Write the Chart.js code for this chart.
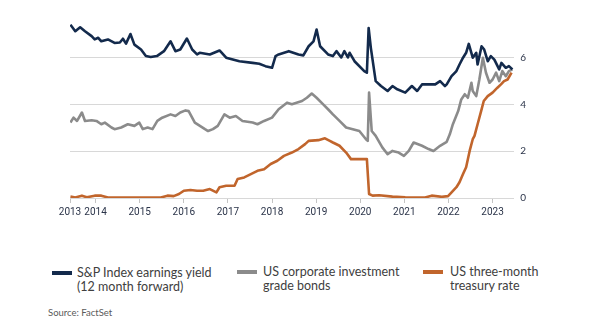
<!DOCTYPE html>
<html>
<head>
<meta charset="utf-8">
<script src="https://cdn.jsdelivr.net/npm/chart.js@4"></script>
<style>
  html, body { margin: 0; padding: 0; background: #fff; }
  body { width: 603px; height: 331px; position: relative; overflow: hidden; font-family: Lato, "Open Sans", sans-serif; }
  #chart-wrap { position: absolute; left: 0; top: 0; width: 603px; height: 225px; }
  .swatch { position: absolute; height: 4px; width: 20px; }
  .legend-text { position: absolute; font-size: 12.5px; line-height: 14px; color: #404040; white-space: nowrap; }
  #source { position: absolute; left: 48px; top: 307px; font-size: 9.5px; color: #5a5a5a; }
</style>
</head>
<body>
<div id="chart-wrap"><canvas id="yieldChart"></canvas></div>
<div id="legend"></div>
<div id="source">Source: FactSet</div>

<script>
// Series values, [decimal year, percent]
const spYield = [
  [2013.43, 7.40], [2013.54, 7.12], [2013.65, 7.29], [2013.76, 7.12], [2013.91, 6.91],
  [2013.98, 6.77], [2014.06, 6.84], [2014.13, 6.69], [2014.28, 6.77], [2014.43, 6.62],
  [2014.55, 6.64], [2014.62, 6.80], [2014.69, 6.59], [2014.79, 7.00], [2014.88, 6.55],
  [2015.03, 6.34], [2015.14, 6.06], [2015.25, 6.02], [2015.39, 6.06], [2015.55, 6.27],
  [2015.70, 6.69], [2015.81, 6.27], [2015.92, 6.34], [2016.07, 6.81], [2016.19, 6.34],
  [2016.30, 6.13], [2016.36, 6.20], [2016.59, 6.13], [2016.81, 6.30], [2016.96, 5.99],
  [2017.26, 5.84], [2017.56, 5.77], [2017.71, 5.73], [2017.85, 5.63], [2018.00, 5.56],
  [2018.08, 6.06], [2018.15, 6.13], [2018.38, 6.27], [2018.60, 6.13], [2018.71, 6.09],
  [2018.83, 6.48], [2018.94, 6.69], [2019.01, 7.19], [2019.09, 6.48], [2019.27, 6.13],
  [2019.38, 6.06], [2019.46, 6.27], [2019.57, 6.00], [2019.64, 6.27], [2019.72, 6.00],
  [2019.76, 6.20], [2019.87, 5.84], [2020.09, 5.42], [2020.15, 5.35], [2020.19, 7.26],
  [2020.24, 6.41], [2020.35, 4.99], [2020.47, 4.78], [2020.62, 4.57], [2020.73, 4.78],
  [2020.84, 4.64], [2021.02, 4.50], [2021.17, 4.78], [2021.29, 4.57], [2021.40, 4.85],
  [2021.70, 4.85], [2021.81, 4.99], [2021.92, 4.78], [2021.96, 4.85], [2022.07, 5.20],
  [2022.18, 5.42], [2022.25, 5.70], [2022.33, 5.99], [2022.40, 6.20], [2022.46, 6.58],
  [2022.55, 5.99], [2022.63, 6.20], [2022.66, 5.70], [2022.75, 6.48], [2022.81, 6.34],
  [2022.89, 5.84], [2022.96, 6.06], [2023.04, 5.91], [2023.15, 5.49], [2023.20, 5.77],
  [2023.30, 5.56], [2023.37, 5.63], [2023.45, 5.49]
];

const corpBonds = [
  [2013.43, 3.22], [2013.50, 3.43], [2013.58, 3.29], [2013.69, 3.65], [2013.76, 3.29],
  [2013.91, 3.32], [2014.02, 3.29], [2014.13, 3.15], [2014.21, 3.22], [2014.36, 3.01],
  [2014.43, 2.94], [2014.58, 3.01], [2014.73, 3.15], [2014.88, 3.08], [2014.99, 3.22],
  [2015.07, 2.94], [2015.18, 3.01], [2015.29, 2.94], [2015.40, 3.29], [2015.51, 3.43],
  [2015.70, 3.57], [2015.81, 3.50], [2015.92, 3.65], [2016.04, 3.74], [2016.11, 3.71],
  [2016.25, 3.22], [2016.48, 2.94], [2016.55, 2.86], [2016.66, 2.94], [2016.77, 3.08],
  [2016.92, 3.57], [2017.04, 3.43], [2017.18, 3.50], [2017.33, 3.29], [2017.56, 3.22],
  [2017.67, 3.15], [2017.82, 3.29], [2018.00, 3.43], [2018.15, 3.79], [2018.34, 4.07],
  [2018.45, 4.00], [2018.68, 4.14], [2018.79, 4.28], [2018.90, 4.46], [2019.01, 4.28],
  [2019.16, 4.00], [2019.27, 3.79], [2019.38, 3.57], [2019.53, 3.29], [2019.68, 3.01],
  [2019.83, 2.94], [2019.98, 2.86], [2020.13, 2.51], [2020.17, 2.44], [2020.20, 4.50],
  [2020.26, 2.86], [2020.35, 2.65], [2020.50, 2.16], [2020.62, 1.87], [2020.73, 2.01],
  [2020.87, 1.94], [2020.99, 1.80], [2021.10, 2.01], [2021.21, 2.37], [2021.40, 2.23],
  [2021.55, 2.09], [2021.66, 2.01], [2021.81, 2.23], [2021.96, 2.40], [2022.03, 2.72],
  [2022.10, 3.15], [2022.22, 3.71], [2022.29, 4.21], [2022.37, 4.43], [2022.44, 4.28],
  [2022.52, 4.92], [2022.55, 4.57], [2022.63, 4.35], [2022.70, 5.06], [2022.78, 5.99],
  [2022.85, 5.35], [2022.93, 4.92], [2023.00, 5.06], [2023.08, 5.35], [2023.15, 4.99],
  [2023.22, 5.42], [2023.30, 5.20], [2023.37, 5.42], [2023.45, 5.49]
];

const tBill = [
  [2013.43, 0.06], [2013.54, 0.02], [2013.69, 0.10], [2013.80, 0.03], [2013.98, 0.10],
  [2014.13, 0.10], [2014.28, 0.02], [2015.48, 0.02], [2015.63, 0.10], [2015.77, 0.08],
  [2015.89, 0.17], [2016.00, 0.31], [2016.15, 0.34], [2016.30, 0.31], [2016.44, 0.31],
  [2016.59, 0.38], [2016.74, 0.24], [2016.81, 0.46], [2016.96, 0.52], [2017.15, 0.52],
  [2017.22, 0.81], [2017.37, 0.88], [2017.52, 1.02], [2017.67, 1.16], [2017.82, 1.23],
  [2017.97, 1.45], [2018.12, 1.59], [2018.27, 1.80], [2018.45, 1.94], [2018.60, 2.09],
  [2018.75, 2.30], [2018.83, 2.44], [2019.05, 2.47], [2019.20, 2.55], [2019.31, 2.44],
  [2019.38, 2.37], [2019.53, 2.23], [2019.68, 1.94], [2019.79, 1.66], [2020.06, 1.66],
  [2020.15, 1.66], [2020.20, 0.17], [2020.28, 0.10], [2020.43, 0.12], [2020.73, 0.06],
  [2021.02, 0.03], [2021.47, 0.02], [2021.62, 0.10], [2021.85, 0.05], [2021.99, 0.08],
  [2022.07, 0.24], [2022.18, 0.46], [2022.25, 0.67], [2022.33, 1.02], [2022.40, 1.31],
  [2022.48, 2.01], [2022.55, 2.51], [2022.59, 2.65], [2022.66, 3.15], [2022.74, 3.71],
  [2022.80, 4.14], [2022.89, 4.35], [2023.00, 4.50], [2023.11, 4.71], [2023.19, 4.85],
  [2023.26, 4.99], [2023.34, 5.06], [2023.43, 5.35]
];

// Axis ticks: first tick marks where the data starts
const yearTicks = [2013.42, 2014, 2015, 2016, 2017, 2018, 2019, 2020, 2021, 2022, 2023];
const yearLabels = ["2013", "2014", "2015", "2016", "2017", "2018", "2019", "2020", "2021", "2022", "2023"];
const valueTicks = [0, 2, 4, 6];

const seriesNames = [
  ["S&P Index earnings yield", "(12 month forward)"],
  ["US corporate investment", "grade bonds"],
  ["US three-month", "treasury rate"]
];

document.addEventListener("DOMContentLoaded", function () {
  const colors = {
    navy: "#132a4c",
    gray: "#8b8b8b",
    orange: "#c1652c",
    grid: "#d8d8d8",
    tickText: "#2b3449",
  };
  const seriesColors = [colors.navy, colors.gray, colors.orange];
  const tickFont = { family: "Roboto, sans-serif", size: 10 };

  function toPoints(rows) {
    return rows.map((r) => ({ x: r[0], y: r[1] }));
  }

  // Build the line chart
  function initYieldChart() {
    const ctx = document.getElementById("yieldChart");
    const allSeries = [spYield, corpBonds, tBill];

    new Chart(ctx, {
      type: "line",
      data: {
        datasets: allSeries.map((rows, i) => ({
          label: seriesNames[i].join(" "),
          data: toPoints(rows),
          borderColor: seriesColors[i],
          borderWidth: 2.6,
          pointRadius: 0,
          tension: 0,
          borderJoinStyle: "round",
          order: i === 0 ? 0 : 3 - i,
        })),
      },
      options: {
        responsive: true,
        maintainAspectRatio: false,
        animation: false,
        layout: { padding: { left: 70, right: 71, top: 20, bottom: 4 } },
        plugins: { legend: { display: false }, tooltip: { enabled: false } },
        scales: {
          x: {
            type: "linear",
            min: 2013.42,
            max: 2023.49,
            afterBuildTicks: (axis) => {
              axis.ticks = yearTicks.map((v) => ({ value: v }));
            },
            grid: { drawOnChartArea: false, drawTicks: true, tickLength: 5, color: "#c4c4c4" },
            border: { display: false },
            ticks: {
              autoSkip: false,
              maxRotation: 0,
              padding: 3,
              color: colors.tickText,
              font: tickFont,
              callback: (value, index) => yearLabels[index],
            },
          },
          y: {
            position: "right",
            min: 0,
            max: 7.6,
            afterBuildTicks: (axis) => {
              axis.ticks = valueTicks.map((v) => ({ value: v }));
            },
            grid: { color: colors.grid, lineWidth: 1, drawTicks: false },
            border: { display: false },
            ticks: { padding: 6, color: colors.tickText, font: { family: "Lato, sans-serif", size: 10 } },
          },
        },
      },
    });
  }

  // HTML legend with two-line labels
  function initLegend() {
    const legend = document.getElementById("legend");
    const swatchX = [52, 237, 423];
    const textX = [77, 263, 450];
    const rowY = [266, 265, 265];
    seriesNames.forEach((lines, i) => {
      const sw = document.createElement("div");
      sw.className = "swatch";
      sw.style.left = swatchX[i] + "px";
      sw.style.top = rowY[i] + 5 + "px";
      sw.style.background = seriesColors[i];
      legend.appendChild(sw);

      const txt = document.createElement("div");
      txt.className = "legend-text";
      txt.style.left = textX[i] + "px";
      txt.style.top = rowY[i] + "px";
      txt.innerHTML = lines.join("<br>");
      legend.appendChild(txt);
    });
  }

  initYieldChart();
  initLegend();
});
</script>
</body>
</html>
